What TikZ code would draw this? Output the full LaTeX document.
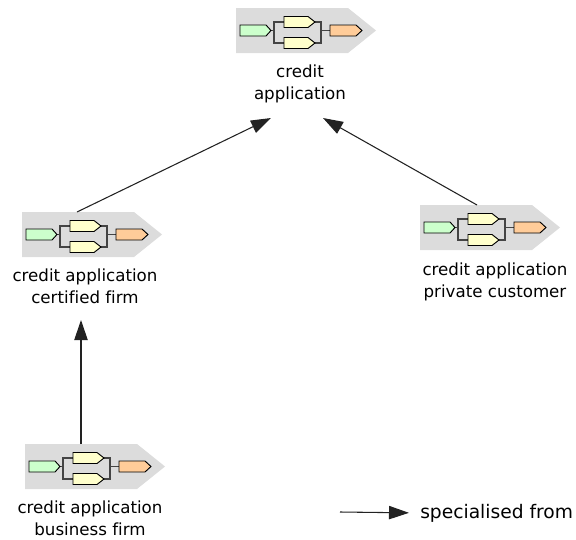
\documentclass[tikz,border=0pt]{standalone}
\usepackage{fontspec}
\setmainfont{DejaVu Sans}[Ligatures=NoCommon]
\usetikzlibrary{arrows.meta,calc}
\definecolor{bggray}{HTML}{DCDCDC}
\definecolor{gfill}{HTML}{CCFFCC}
\definecolor{yfill}{HTML}{FFFFCC}
\definecolor{ofill}{HTML}{FFCC99}
\definecolor{brcol}{HTML}{444444}
\definecolor{arrcol}{HTML}{222222}
\newcommand\procicon[2]{%
  \begin{scope}[shift={(#1,#2)}]
    \fill[bggray] (0,0) -- (112,0) -- (140,22.5) -- (112,45) -- (0,45) -- cycle;
    \draw[brcol,line width=1.1pt] (35,22.5) -- (38,22.5);
    \draw[brcol,line width=1.1pt] (48,14) -- (38,14) -- (38,35) -- (48,35);
    \draw[brcol,line width=1.1pt] (79,14) -- (85,14) -- (85,35) -- (79,35);
    \draw[brcol,line width=1.1pt] (85,22.5) -- (94,22.5);
    \draw[shapeline,fill=gfill] (4,17) -- (30,17) -- (35,22.5) -- (30,28) -- (4,28) -- cycle;
    \draw[shapeline,fill=yfill] (48,8.5) -- (72,8.5) -- (79,14) -- (72,19.5) -- (48,19.5) -- cycle;
    \draw[shapeline,fill=yfill] (48,29.5) -- (72,29.5) -- (79,35) -- (72,40.5) -- (48,40.5) -- cycle;
    \draw[shapeline,fill=ofill] (94,17) -- (120,17) -- (126,22.5) -- (120,28) -- (94,28) -- cycle;
  \end{scope}}
\begin{document}
\begin{tikzpicture}[x=0.75pt,y=-0.75pt,
  shapeline/.style={draw=black,line width=0.7pt,line join=miter},
  lbl/.style={anchor=base,inner sep=0pt,font=\fontsize{12.5}{16.5}\selectfont},
  spec/.style={draw=arrcol,line width=0.8pt,-{Triangle[length=15pt,width=10pt]}}]
\useasboundingbox (0,0) rectangle (576,540);
% icons
\coordinate (topicon) at (236,8);
\coordinate (lefticon) at (22,212);
\coordinate (righticon) at (420,205);
\coordinate (boticon) at (25,444);
\procicon{236}{8}
\procicon{22}{212}
\procicon{420}{205}
\procicon{25}{444}
% labels
\node[lbl] (toplbl) at (300,77) {\begin{tabular}[t]{@{}c@{}}credit\\application\end{tabular}};
\node[lbl] (leftlbl) at (85,281) {\begin{tabular}[t]{@{}c@{}}credit application\\certified firm\end{tabular}};
\node[lbl] (rightlbl) at (495,275) {\begin{tabular}[t]{@{}c@{}}credit application\\private customer\end{tabular}};
\node[lbl] (botlbl) at (90,513) {\begin{tabular}[t]{@{}c@{}}credit application\\business firm\end{tabular}};
% connectors
\draw[spec] ($(lefticon)+(55,0)$) -- ($(topicon)+(35,110)$);
\draw[spec] ($(righticon)+(57,0)$) -- ($(topicon)+(87,110)$);
\draw[spec] ($(boticon)+(56,0)$) -- ($(lefticon)+(59,108)$);
% legend
\coordinate (legstart) at (340,512);
\node[anchor=base west,inner sep=0pt,font=\fontsize{14}{17}\selectfont] (legtext) at (420,518) {specialised from};
\draw[spec] (legstart) -- ($(legtext.west)+(-11,0)$ |- legstart);
\end{tikzpicture}
\end{document}
